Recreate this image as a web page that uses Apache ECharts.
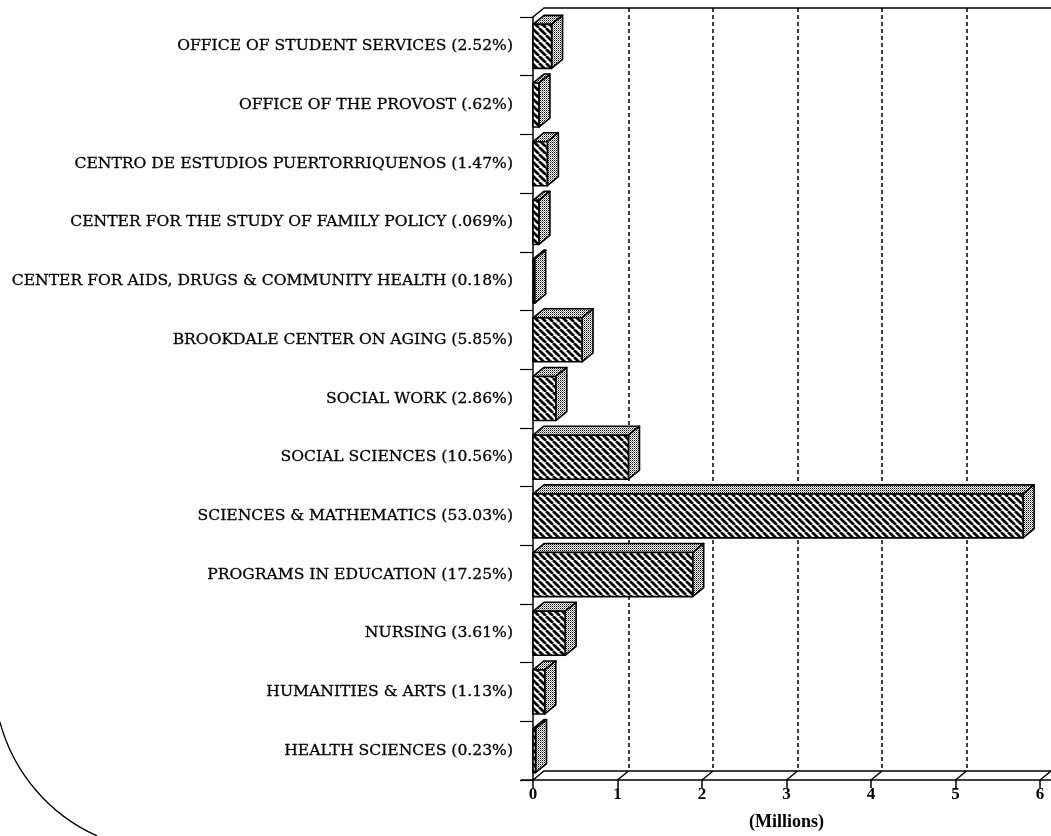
<!DOCTYPE html>
<html>
<head>
<meta charset="utf-8">
<script src="https://cdn.jsdelivr.net/npm/echarts@6/dist/echarts.min.js"></script>
<style>
  html, body { margin: 0; padding: 0; background: #fff; }
  #chart { width: 1051px; height: 836px; }
</style>
</head>
<body>
<div id="chart"></div>
<script>
// categories, top to bottom as printed
const categories = [
  'OFFICE OF STUDENT SERVICES (2.52%)',
  'OFFICE OF THE PROVOST (.62%)',
  'CENTRO DE ESTUDIOS PUERTORRIQUENOS (1.47%)',
  'CENTER FOR THE STUDY OF FAMILY POLICY (.069%)',
  'CENTER FOR AIDS, DRUGS & COMMUNITY HEALTH (0.18%)',
  'BROOKDALE CENTER ON AGING (5.85%)',
  'SOCIAL WORK (2.86%)',
  'SOCIAL SCIENCES (10.56%)',
  'SCIENCES & MATHEMATICS (53.03%)',
  'PROGRAMS IN EDUCATION (17.25%)',
  'NURSING (3.61%)',
  'HUMANITIES & ARTS (1.13%)',
  'HEALTH SCIENCES (0.23%)'
]
// funding, millions
const amounts = [0.22, 0.07, 0.17, 0.07, 0.02, 0.58, 0.27, 1.13, 5.80, 1.89, 0.38, 0.14, 0.03]
const xTicks = [0, 1, 2, 3, 4, 5, 6]

// depth of the 3d look
const DX = 11
const DY = 9

function hatch() {
  const s = 7
  const c = document.createElement('canvas')
  c.width = c.height = s
  const g = c.getContext('2d')
  g.fillStyle = '#fff'
  g.fillRect(0, 0, s, s)
  g.strokeStyle = '#000'
  g.lineWidth = 2.7
  for (let k = -1; k <= 1; k++) {
    g.beginPath()
    g.moveTo(k * s, 0)
    g.lineTo(k * s + s, s)
    g.stroke()
  }
  return c
}
function dots() {
  const c = document.createElement('canvas')
  c.width = c.height = 2
  const g = c.getContext('2d')
  g.fillStyle = '#fff'
  g.fillRect(0, 0, 2, 2)
  g.fillStyle = '#000'
  g.fillRect(0, 0, 1, 1)
  g.fillStyle = '#888'
  g.fillRect(1, 1, 1, 1)
  return c
}
const hatchFill = { image: hatch(), repeat: 'repeat' }
const dotFill = { image: dots(), repeat: 'repeat' }

const serif = '"DejaVu Serif", "Liberation Serif", serif'
const times = '"Liberation Serif", serif'
const black = { color: '#000', width: 1.5 }
const chart = echarts.init(document.getElementById('chart'))

chart.setOption({
  animation: false,
  grid: [
    { left: 533, right: 11, top: 17, bottom: 56 },
    { left: 544, right: 0, top: 8, bottom: 65 }
  ],
  xAxis: [
    {
      gridIndex: 0, type: 'value', min: 0, max: 6, interval: 1,
      axisLine: { show: true, onZero: false, lineStyle: black },
      axisTick: { show: true, length: 8, lineStyle: black },
      axisLabel: { color: '#000', fontFamily: times, fontWeight: 'bold', fontSize: 17, margin: 6 },
      splitLine: { show: false },
      name: '(Millions)', nameLocation: 'middle', nameGap: 33,
      nameTextStyle: { color: '#000', fontFamily: times, fontWeight: 'bold', fontSize: 18 }
    },
    {
      gridIndex: 1, type: 'value', min: 0, max: 6, interval: 1,
      axisLine: { show: true, onZero: false, lineStyle: black },
      axisTick: { show: false }, axisLabel: { show: false },
      splitLine: { show: true, showMinLine: false, showMaxLine: false,
        lineStyle: { color: '#000', width: 1.5, type: [4, 3] } }
    },
    {
      gridIndex: 1, type: 'value', min: 0, max: 6, position: 'top',
      axisLine: { show: true, onZero: false, lineStyle: black },
      axisTick: { show: false }, axisLabel: { show: false }, splitLine: { show: false }
    }
  ],
  yAxis: [
    {
      gridIndex: 0, type: 'category', inverse: true, data: categories,
      axisLine: { show: true, onZero: false, lineStyle: black },
      axisTick: { show: true, length: 13, lineStyle: { color: '#000', width: 1.2 } },
      axisLabel: { color: '#000', fontFamily: serif, fontSize: 15.6, margin: 20,
        textBorderColor: '#000', textBorderWidth: 0.3 }
    },
    { gridIndex: 1, type: 'value', show: false }
  ],
  series: [
    {
      name: 'floor',
      type: 'custom',
      xAxisIndex: 0, yAxisIndex: 0,
      data: xTicks.map(v => [v, 0]),
      encode: { x: 0, y: 1 },
      z: 1,
      renderItem(params, api) {
        const cs = params.coordSys
        const x = api.coord([api.value(0), 0])[0]
        const yb = cs.y + cs.height
        const line = (x1, y1, x2, y2) => ({
          type: 'line', shape: { x1, y1, x2, y2 }, style: { stroke: '#000', lineWidth: 1.5 }
        })
        const kids = [line(x, yb, x + DX, yb - DY)]
        if (params.dataIndex === 0) {
          kids.push(line(x, cs.y, x + DX, cs.y - DY))
          kids.push(line(x - 12, yb, x, yb))
        }
        if (params.dataIndex === xTicks.length - 1) {
          kids.push(line(x, yb, x + DX + 2, yb))
        }
        return { type: 'group', children: kids }
      }
    },
    {
      name: 'funding',
      type: 'custom',
      xAxisIndex: 0, yAxisIndex: 0,
      data: amounts.map((v, i) => [v, i]),
      encode: { x: 0, y: 1 },
      z: 3,
      renderItem(params, api) {
        const p0 = api.coord([0, api.value(1)])
        const p1 = api.coord([api.value(0), api.value(1)])
        const h = api.size([0, 1])[1] * 0.75
        const x0 = p0[0], x1 = p1[0]
        const yt = p0[1] - h / 2, yb = p0[1] + h / 2
        const edge = { stroke: '#000', lineWidth: 1.6, lineJoin: 'round' }
        return {
          type: 'group',
          children: [
            {
              type: 'polygon',
              shape: { points: [[x0, yt], [x0 + DX, yt - DY], [x1 + DX, yt - DY], [x1, yt]] },
              style: Object.assign({ fill: dotFill }, edge)
            },
            {
              type: 'polygon',
              shape: { points: [[x1, yt], [x1 + DX, yt - DY], [x1 + DX, yb - DY], [x1, yb]] },
              style: Object.assign({ fill: dotFill }, edge)
            },
            {
              type: 'rect',
              shape: { x: x0, y: yt, width: x1 - x0, height: h },
              style: Object.assign({ fill: hatchFill }, edge)
            }
          ]
        }
      }
    }
  ],
  graphic: [{
    type: 'arc',
    shape: { cx: 168, cy: 677, r: 174, startAngle: 1.99, endAngle: 2.88, clockwise: true },
    style: { stroke: '#000', lineWidth: 1.3, fill: null }
  }]
})
</script>
</body>
</html>
